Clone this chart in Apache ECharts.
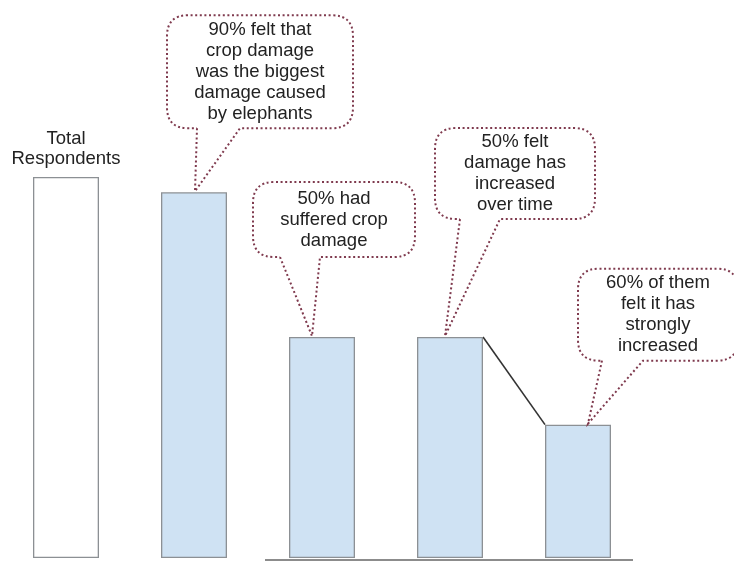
<!DOCTYPE html>
<html>
<head>
<meta charset="utf-8">
<title>Elephant crop damage survey</title>
<script src="https://cdn.jsdelivr.net/npm/echarts@6/dist/echarts.min.js"></script>
<style>
  html, body { margin: 0; padding: 0; background: #ffffff; }
  #chart { width: 734px; height: 561px; }
</style>
</head>
<body>
<div id="chart"></div>
<script>
// Survey funnel: each bar is a subset of the respondents
const categories = ['Total Respondents', 'Biggest damage: crops', 'Suffered crop damage', 'Damage increased', 'Strongly increased'];
const barValues = [100, 96, 58, 58, 35];
const barLabels = ['Total\nRespondents', '', '', '', ''];

// Speech-bubble notes attached to bars (category index + text)
const noteBars = [1, 2, 3, 4];
const noteTexts = [
  '90% felt that\ncrop damage\nwas the biggest\ndamage caused\nby elephants',
  '50% had\nsuffered crop\ndamage',
  '50% felt\ndamage has\nincreased\nover time',
  '60% of them\nfelt it has\nstrongly\nincreased'
];

// Bubble geometry relative to the top centre of its bar:
// [box left, box right, box top, box bottom, tail start left, tail start right, tip dx]
const bubbleLayout = [
  [-27, 159, -177, -64, 3, 46, 1],
  [-69, 93, -155, -80, -42, -2, -10],
  [-15, 145, -209, -118, 10, 50, -5],
  [0, 160, -156, -64, 24, 65, 10]
];

const FONT = '18.5px "Liberation Sans", Arial, sans-serif';
const TEXT_COLOR = '#222222';
const DOT_COLOR = '#7f3a4e';

function bubblePath(L, R, T, B, xl, xr, tx, ty, r) {
  return 'M' + xl + ',' + B +
    ' L' + tx + ',' + ty +
    ' L' + xr + ',' + B +
    ' L' + (R - r) + ',' + B +
    ' Q' + R + ',' + B + ' ' + R + ',' + (B - r) +
    ' L' + R + ',' + (T + r) +
    ' Q' + R + ',' + T + ' ' + (R - r) + ',' + T +
    ' L' + (L + r) + ',' + T +
    ' Q' + L + ',' + T + ' ' + L + ',' + (T + r) +
    ' L' + L + ',' + (B - r) +
    ' Q' + L + ',' + B + ' ' + (L + r) + ',' + B +
    ' L' + xl + ',' + B;
}

const noteData = noteBars.map((c, i) => [c, barValues[c], i]);

const chart = echarts.init(document.getElementById('chart'), null, { renderer: 'canvas' });

chart.setOption({
  animation: false,
  backgroundColor: '#ffffff',
  grid: { left: 2, right: 92, top: 177, bottom: 3, containLabel: false },
  xAxis: {
    type: 'category',
    data: categories,
    show: false
  },
  yAxis: {
    type: 'value',
    min: 0,
    max: 100,
    show: false
  },
  series: [
    {
      type: 'bar',
      barWidth: 66,
      data: barValues.map((v, i) => ({
        value: v,
        itemStyle: {
          color: i === 0 ? '#ffffff' : '#cfe2f3',
          borderColor: '#8c9094',
          borderWidth: 1.3
        },
        label: {
          show: barLabels[i] !== '',
          position: 'top',
          distance: 8,
          formatter: barLabels[i],
          fontFamily: '"Liberation Sans", Arial, sans-serif',
          fontSize: 18.5,
          lineHeight: 20,
          color: TEXT_COLOR
        }
      }))
    },
    {
      // connector between the last two bars and the ground line under the subset bars
      type: 'custom',
      silent: true,
      data: [[3, barValues[3], 4, barValues[4]]],
      renderItem: function (params, api) {
        const a = api.coord([api.value(0), api.value(1)]);
        const b = api.coord([api.value(2), api.value(3)]);
        const half = 33;
        const base2 = api.coord([2, 0]);
        const base4 = api.coord([4, 0]);
        return {
          type: 'group',
          children: [
            {
              type: 'line',
              shape: { x1: a[0] + half, y1: a[1], x2: b[0] - half, y2: b[1] },
              style: { stroke: '#333333', lineWidth: 1.6 }
            },
            {
              type: 'line',
              shape: { x1: base2[0] - half - 24, y1: base2[1] + 2, x2: base4[0] + half + 22, y2: base4[1] + 2 },
              style: { stroke: '#4a4a4a', lineWidth: 1.6, opacity: 0.85 }
            }
          ]
        };
      },
      z: 1
    },
    {
      type: 'custom',
      silent: true,
      data: noteData,
      renderItem: function (params, api) {
        const p = api.coord([api.value(0), api.value(1)]);
        const k = api.value(2);
        const g = bubbleLayout[k];
        const cx = p[0], top = p[1];
        const L = cx + g[0], R = cx + g[1], T = top + g[2], B = top + g[3];
        return {
          type: 'group',
          children: [
            {
              type: 'path',
              shape: { pathData: bubblePath(L, R, T, B, cx + g[4], cx + g[5], cx + g[6], top - 1, 21) },
              style: {
                fill: '#ffffff',
                stroke: DOT_COLOR,
                lineWidth: 2,
                lineDash: [2, 2.6]
              }
            },
            {
              type: 'text',
              style: {
                text: noteTexts[k],
                x: (L + R) / 2,
                y: (T + B) / 2,
                align: 'center',
                verticalAlign: 'middle',
                font: FONT,
                lineHeight: 21,
                fill: TEXT_COLOR
              }
            }
          ]
        };
      },
      z: 5
    }
  ]
});
</script>
</body>
</html>
